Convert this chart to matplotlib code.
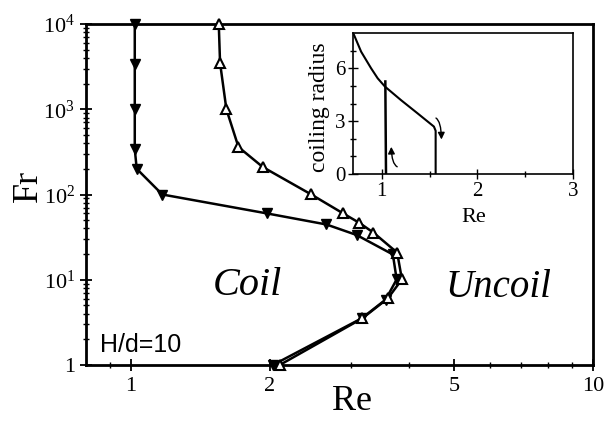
import matplotlib
matplotlib.use("Agg")
import matplotlib.pyplot as plt
from matplotlib.patches import FancyArrowPatch

plt.rcParams["font.family"] = ["Liberation Serif", "DejaVu Serif"]
plt.rcParams["mathtext.fontset"] = "custom"
plt.rcParams["mathtext.rm"] = "Liberation Serif"
plt.rcParams["mathtext.it"] = "Liberation Serif:italic"

# main diagram: transition lines in the (Re, Fr) plane
fr_down = [10000, 3400, 1000, 340, 200, 100, 60, 44.5, 33.5, 19.8, 10.1, 5.85, 3.53, 1]
re_down = [1.02, 1.02, 1.02, 1.02, 1.03, 1.17, 1.97, 2.65, 3.08, 3.69, 3.76, 3.56, 3.16, 2.03]
fr_up = [10000, 3500, 1000, 360, 210, 101, 60, 46.6, 35.7, 20.8, 10.1, 6.06, 3.53, 1]
re_up = [1.55, 1.56, 1.61, 1.71, 1.93, 2.45, 2.88, 3.12, 3.35, 3.77, 3.86, 3.6, 3.17, 2.1]

x_ticks = [1, 2, 5, 10]
x_ticklabels = ["1", "2", "5", "10"]
x_minor = [0.9, 3, 4, 6, 7, 8, 9]
y_ticks = [1, 10, 100, 1000, 10000]
y_ticklabels = ["1", "$10^1$", "$10^2$", "$10^3$", "$10^4$"]

# inset: coiling radius vs Re (hysteresis loop)
re_curve = [0.71, 0.785, 0.889, 0.958, 1.034, 1.2, 1.373, 1.546, 1.564, 1.564]
rad_curve = [7.9, 6.94, 6.0, 5.43, 4.96, 4.2, 3.45, 2.69, 2.45, 0.0]
re_jump = [1.045, 1.038]
rad_jump = [0.0, 5.25]
arrow_up = [(1.19, 0.37), (1.10, 1.7)]
arrow_down = [(1.54, 3.22), (1.625, 1.8)]

fig = plt.figure(figsize=(6.05, 4.26), dpi=100)
ax = fig.add_axes([86 / 605, 1 - 365 / 426, 507 / 605, 341 / 426])

ax.plot(re_down, fr_down, color="black", lw=1.8, marker="v", ms=7.5,
        mfc="black", mec="black", zorder=3, clip_on=False)
ax.plot(re_up, fr_up, color="black", lw=1.8, marker="^", ms=7.5,
        mfc="white", mec="black", mew=1.5, zorder=4, clip_on=False)

ax.set_xscale("log")
ax.set_yscale("log")
ax.set_xlim(0.8, 10)
ax.set_ylim(1, 10000)
ax.set_xticks(x_ticks)
ax.set_xticklabels(x_ticklabels)
ax.set_xticks(x_minor, minor=True)
ax.set_xticklabels([], minor=True)
ax.set_yticks(y_ticks)
ax.set_yticklabels(y_ticklabels)
ax.tick_params(which="major", direction="inout", length=9, width=1.3,
               labelsize=16, top=False, right=False)
ax.tick_params(which="minor", direction="inout", length=5, width=1.0,
               top=False, right=False)
ax.tick_params(axis="x", which="major", pad=4)
for s in ax.spines.values():
    s.set_linewidth(2)

fig.text(28 / 605, 1 - 186 / 426, "Fr", fontsize=26, rotation=90,
         ha="center", va="center")
fig.text(352 / 605, 1 - 401 / 426, "Re", fontsize=26, ha="center", va="center")
fig.text(213 / 605, 1 - 295 / 426, "Coil", fontsize=29, style="italic",
         ha="left", va="baseline")
fig.text(445 / 605, 1 - 297 / 426, "Uncoil", fontsize=28, style="italic",
         ha="left", va="baseline")
fig.text(100 / 605, 1 - 352 / 426, "H/d=10", fontsize=18,
         family="Liberation Sans", ha="left", va="baseline")

# inset
axi = fig.add_axes([353 / 605, 1 - 174 / 426, 220 / 605, 141 / 426])
axi.plot(re_curve, rad_curve, color="black", lw=1.5)
axi.plot(re_jump, rad_jump, color="black", lw=1.8)
for (x0, y0), (x1, y1), ang in [(arrow_up[0], arrow_up[1], 180),
                                (arrow_down[0], arrow_down[1], 0)]:
    axi.add_patch(FancyArrowPatch((x0, y0), (x1, y1),
                                  connectionstyle=f"angle3,angleA={ang},angleB=90",
                                  arrowstyle="-|>,head_length=4,head_width=2",
                                  color="black", lw=1.0))
axi.set_xlim(0.7, 3)
axi.set_ylim(0, 8)
axi.set_xticks([1, 2, 3])
axi.set_xticks([1.5, 2.5], minor=True)
axi.set_yticks([0, 3, 6])
axi.set_yticks([1, 2, 4, 5, 7], minor=True)
axi.tick_params(which="major", direction="inout", length=7, width=1.0,
                labelsize=15, pad=2)
axi.tick_params(which="minor", direction="inout", length=4, width=1.0)
for s in axi.spines.values():
    s.set_linewidth(1.2)
fig.text(474 / 605, 1 - 218 / 426, "Re", fontsize=16, ha="center", va="center")
fig.text(320 / 605, 1 - 107 / 426, "coiling radius", fontsize=17, rotation=90,
         ha="center", va="center")

fig.savefig("out.png", dpi=100)
